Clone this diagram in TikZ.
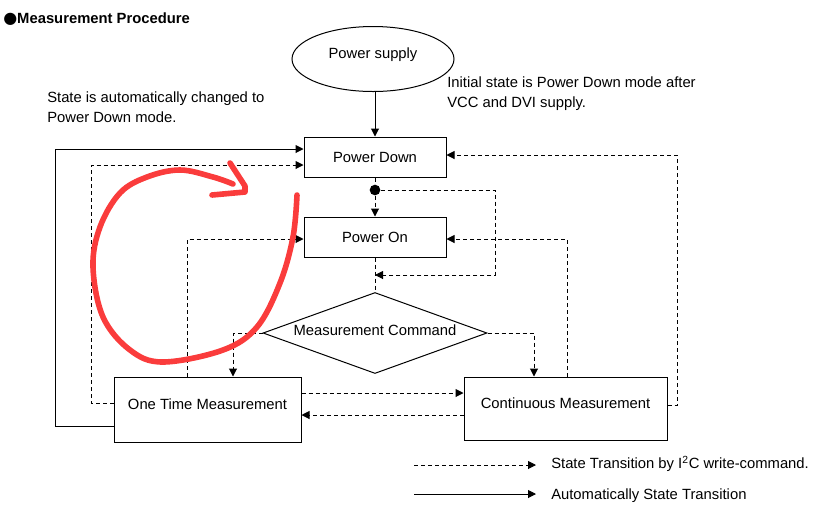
\documentclass[tikz,border=0pt]{standalone}
\usepackage{fontspec}
\setmainfont{Liberation Sans}
\newfontfamily\symfont{DejaVu Sans}
\usetikzlibrary{arrows.meta,shapes.geometric}

\definecolor{scribble}{RGB}{250,60,60}

\tikzset{
  flowline/.style = {line width=0.75pt, -{Triangle[length=6pt,width=6pt]}},
  autoline/.style = {flowline},
  cmdline/.style  = {flowline, dash pattern=on 3pt off 2.25pt},
  cmdplain/.style = {line width=0.75pt, dash pattern=on 3pt off 2.25pt},
  state/.style    = {draw, line width=0.75pt, rectangle, inner sep=0pt},
  bigstate/.style = {state, text height=8pt, text depth=7.5pt},
  note/.style     = {inner sep=0pt, align=left, font=\fontsize{11.1}{15}\selectfont}
}

\begin{document}
\begin{tikzpicture}[x=0.75pt, y=-0.75pt, font=\fontsize{11.1}{13}\selectfont]
  \useasboundingbox (0,0) rectangle (818,512);

  \node [anchor=base west, inner sep=0pt] (title) at (3,23.3)
    {{\symfont\fontsize{12}{12}\selectfont ●}\textbf{Measurement Procedure}};

  \node [ellipse, draw, line width=0.75pt, minimum width=121.5pt, minimum height=48.75pt,
         text height=8pt, text depth=8.6pt] (supply) at (373,59) {Power supply};
  \node [state, minimum width=106.5pt, minimum height=30pt] (down) at (375,157) {Power Down};
  \node [circle, fill, inner sep=0pt, minimum size=8pt] (dot) at (375,190) {};
  \node [state, minimum width=106.5pt, minimum height=30pt] (on) at (375,237) {Power On};
  \node [diamond, draw, line width=0.75pt, inner sep=0pt, aspect=2.77,
         minimum width=168pt, minimum height=60.75pt,
         text height=8pt, text depth=4.5pt] (command) at (375,333) {Measurement Command};
  \node [bigstate, minimum width=140.25pt, minimum height=48.75pt] (onetime) at (207.5,409.5) {One Time Measurement};
  \node [bigstate, minimum width=152.25pt, minimum height=47.25pt] (continuous) at (565.5,408.5) {Continuous Measurement};

  \node [note, anchor=north west] (autonote) at (47,92)
    {State is automatically changed to\\Power Down mode.};
  \node [note, anchor=north west] (initnote) at (447,77)
    {Initial state is Power Down mode after\\VCC and DVI supply.};

  \draw [autoline] (down.north |- supply.south) -- (down.north);
  \draw [autoline] (onetime.west |- 0,426) -| (55,149) -- (down.west |- 0,149);

  \draw [cmdline] (onetime.west |- 0,403) -| (91,165) -- (down.west |- 0,165);
  \draw [cmdline] (onetime.north -| 187,0) |- (on.west |- 0,239);
  \draw [cmdline] (command.west) -| (onetime.north -| 233,0);
  \draw [cmdline] (command.east) -| (continuous.north -| 534,0);
  \draw [cmdline] (continuous.north -| 567,0) |- (on.east |- 0,239);
  \draw [cmdline] (continuous.east |- 0,405) -| (677,155) -- (down.east |- 0,155);
  \draw [cmdline] (onetime.east |- 0,393) -- (continuous.west |- 0,393);
  \draw [cmdline] (continuous.west |- 0,415) -- (onetime.east |- 0,415);
  \draw [cmdplain] (down.south) -- (dot);
  \draw [cmdline] (dot) -- (on.north);
  \draw [cmdline] (dot) -| (495,275) -- (on.south |- 0,275);
  \draw [cmdplain] (on.south) -- (command.north);

  \coordinate (dashfrom) at (414,465);
  \coordinate (dashto) at (536,465);
  \coordinate (solidfrom) at (414,494);
  \coordinate (solidto) at (536,494);
  \draw [cmdline] (dashfrom) -- (dashto);
  \draw [autoline] (solidfrom) -- (solidto);
  \node [anchor=base west, inner sep=0pt] (dashlabel) at (551,468.3)
    {State Transition by I\textsuperscript{2}C write-command.};
  \node [anchor=base west, inner sep=0pt] (solidlabel) at (551,499.3)
    {Automatically State Transition};

  \draw [scribble, line width=4.2pt, line cap=round, line join=round]
    plot [smooth, tension=0.6] coordinates {(297,195) (293,237) (280,283) (257,327) (223,350)
      (163,362) (130,350) (103,317) (93,267) (100,227) (120,193) (147,177) (180,170) (213,177) (233,184)};
  \draw [scribble, line width=4.2pt, line cap=round, line join=round]
    (230,163) -- (245,186) -- (245,192) -- (212,195);
\end{tikzpicture}
\end{document}
